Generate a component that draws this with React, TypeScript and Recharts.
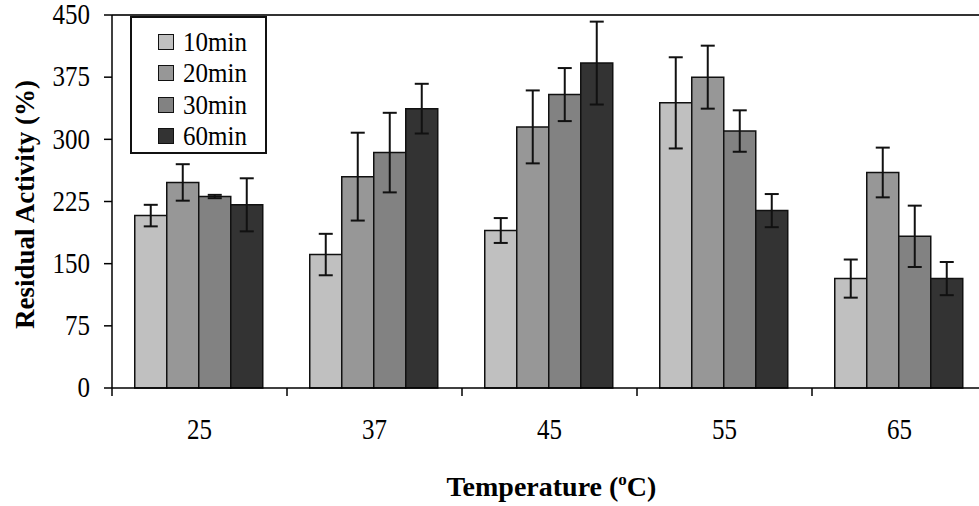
import { Bar, BarChart, ErrorBar, Label, Legend, ReferenceLine, XAxis, YAxis } from 'recharts'

const temps = ['25', '37', '45', '55', '65']
const min10 = [208, 161, 190, 344, 132]
const err10 = [13, 25, 15, 55, 23]
const min20 = [248, 255, 315, 375, 260]
const err20 = [22, 53, 44, 38, 30]
const min30 = [231, 284, 354, 310, 183]
const err30 = [2, 48, 32, 25, 37]
const min60 = [221, 337, 392, 214, 132]
const err60 = [32, 30, 50, 20, 20]
const yTicks = [0, 75, 150, 225, 300, 375, 450]

const series = [
  { key: 'm10', err: 'e10', name: '10min', fill: '#c0c0c0' },
  { key: 'm20', err: 'e20', name: '20min', fill: '#979797' },
  { key: 'm30', err: 'e30', name: '30min', fill: '#828282' },
  { key: 'm60', err: 'e60', name: '60min', fill: '#333333' },
]

const data = temps.map((t, i) => ({
  temp: t,
  m10: min10[i], e10: err10[i],
  m20: min20[i], e20: err20[i],
  m30: min30[i], e30: err30[i],
  m60: min60[i], e60: err60[i],
}))

const FONT = "'Liberation Serif', 'Times New Roman', serif"
const W = 990
const H = 506
const MARGIN = { top: 15, right: 3, left: 0, bottom: 58 }
const Y_AXIS_W = 112
const X_AXIS_H = 60
const PLOT_BOTTOM = H - MARGIN.bottom - X_AXIS_H
const HALF_BAND = (W - MARGIN.left - MARGIN.right - Y_AXIS_W) / temps.length / 2

function YTick({ x, y, payload }: any) {
  return (
    <text
      transform={`translate(${x},${y}) scale(1,1.15)`}
      y={8}
      textAnchor="end"
      fontFamily={FONT}
      fontSize={25}
      fill="#000"
    >
      {payload.value}
    </text>
  )
}

function XTick({ x, payload, index }: any) {
  return (
    <g>
      {index === 0 && (
        <line x1={x - HALF_BAND} x2={x - HALF_BAND} y1={PLOT_BOTTOM} y2={PLOT_BOTTOM + 8} stroke="#000" strokeWidth={1.5} />
      )}
      <line x1={x + HALF_BAND} x2={x + HALF_BAND} y1={PLOT_BOTTOM} y2={PLOT_BOTTOM + 8} stroke="#000" strokeWidth={1.5} />
      <text
        transform={`translate(${x},${PLOT_BOTTOM + 42}) scale(1,1.15)`}
        y={8}
        textAnchor="middle"
        fontFamily={FONT}
        fontSize={25}
        fill="#000"
      >
        {payload.value}
      </text>
    </g>
  )
}

function LegendBox({ payload }: any) {
  return (
    <div
      style={{
        border: '2px solid #111',
        background: '#fff',
        boxSizing: 'border-box',
        width: 137,
        height: 138,
        padding: '8px 0 0 26px',
        fontFamily: FONT,
      }}
    >
      {(payload ?? []).map((p: any) => (
        <div key={p.value} style={{ display: 'flex', alignItems: 'center', height: 31.5 }}>
          <span
            style={{
              width: 14,
              height: 14,
              background: p.color,
              border: '1.5px solid #111',
              marginRight: 9,
              display: 'inline-block',
            }}
          />
          <span style={{ fontFamily: FONT, fontSize: 25, color: '#000', display: 'inline-block', transform: 'scaleY(1.1)' }}>
            {p.value}
          </span>
        </div>
      ))}
    </div>
  )
}

export default function App() {
  return (
    <div style={{ position: 'absolute', left: 0, top: 0, width: 979, height: 506, overflow: 'hidden', background: '#fff' }}>
      <BarChart width={W} height={H} data={data} margin={MARGIN} barCategoryGap="13%" barGap={0}>
        <XAxis
          dataKey="temp"
          height={X_AXIS_H}
          axisLine={{ stroke: '#000', strokeWidth: 1.5 }}
          tickLine={false}
          tick={<XTick />}
          interval={0}
        >
          <Label
            content={({ viewBox }: any) => (
              <text
                x={viewBox.x + viewBox.width / 2 - 103}
                y={PLOT_BOTTOM + 108}
                fontFamily={FONT}
                fontSize={28}
                fontWeight="bold"
                fill="#000"
              >
                <tspan>Temperature (</tspan>
                <tspan dy={-11} fontSize={17}>o</tspan>
                <tspan dy={11}>C)</tspan>
              </text>
            )}
          />
        </XAxis>
        <YAxis
          width={Y_AXIS_W}
          domain={[0, 450]}
          ticks={yTicks}
          interval={0}
          axisLine={{ stroke: '#000', strokeWidth: 1.5 }}
          tickLine={{ stroke: '#000', strokeWidth: 1.5 }}
          tickSize={8}
          tickMargin={14}
          tick={<YTick />}
        >
          <Label
            content={({ viewBox }: any) => {
              const cx = 25
              const cy = viewBox.y + viewBox.height / 2 + 3
              return (
                <text
                  x={cx}
                  y={cy}
                  transform={`rotate(-90, ${cx}, ${cy})`}
                  textAnchor="middle"
                  dominantBaseline="central"
                  fontFamily={FONT}
                  fontSize={27}
                  fontWeight="bold"
                  fill="#000"
                >
                  Residual Activity (%)
                </text>
              )
            }}
          />
        </YAxis>
        <ReferenceLine y={450} stroke="#333" strokeWidth={2} ifOverflow="visible" />
        <Legend
          layout="vertical"
          align="center"
          verticalAlign="middle"
          content={<LegendBox />}
          wrapperStyle={{ left: 130, top: 16, width: 137, height: 138 }}
        />
        {series.map((s) => (
          <Bar
            key={s.key}
            dataKey={s.key}
            name={s.name}
            fill={s.fill}
            stroke="#111"
            strokeWidth={1.5}
            isAnimationActive={false}
          >
            <ErrorBar dataKey={s.err} width={7} stroke="#111" strokeWidth={2} isAnimationActive={false} />
          </Bar>
        ))}
      </BarChart>
    </div>
  )
}
